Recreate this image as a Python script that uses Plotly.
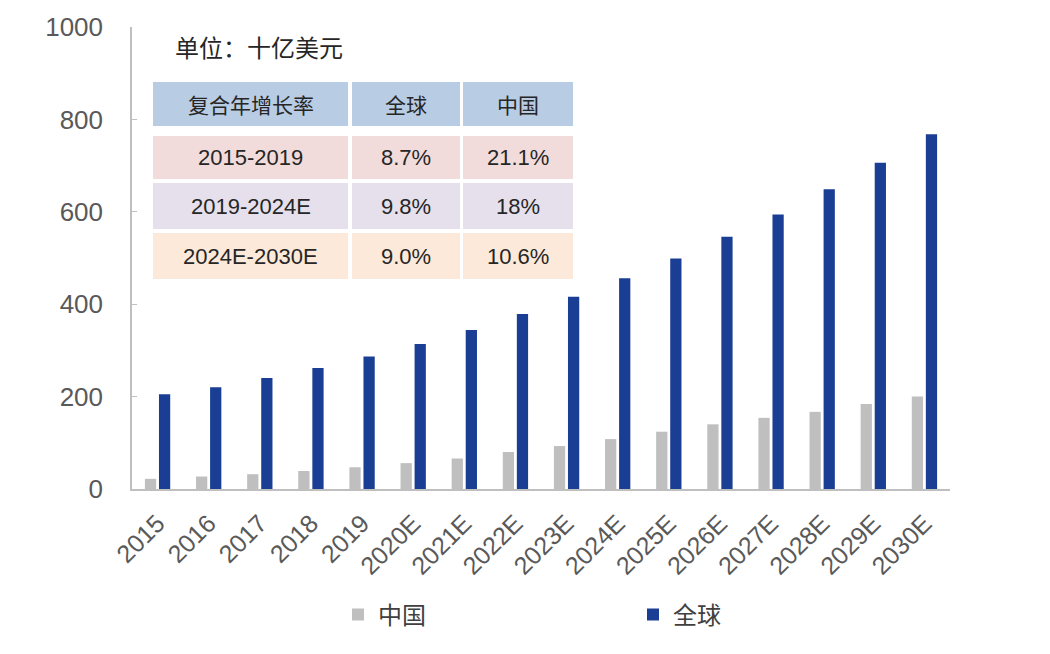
import plotly.graph_objects as go

categories = ["2015", "2016", "2017", "2018", "2019", "2020E", "2021E", "2022E",
              "2023E", "2024E", "2025E", "2026E", "2027E", "2028E", "2029E", "2030E"]
china = [22, 27, 32, 39, 47, 56, 66, 80, 93, 108, 124, 140, 154, 167, 184, 200]
world = [205, 220, 240, 262, 287, 314, 344, 379, 416, 456, 499, 546, 594, 649, 706, 768]

unit_label = "单位：十亿美元"
table_header = ["复合年增长率", "全球", "中国"]
table_periods = ["2015-2019", "2019-2024E", "2024E-2030E"]
table_world = ["8.7%", "9.8%", "9.0%"]
table_china = ["21.1%", "18%", "10.6%"]

OFF = 8  # browser body margin
W, H = 1050, 654
L, T = 132 - OFF, 27 - OFF
R = W - (950 - OFF)
B = H - (489 - OFF)
PW, PH = W - L - R, H - T - B

def px(x):
    return (x - OFF - L) / PW

def py(y):
    return (H - B - (y - OFF)) / PH

fig = go.Figure()
fig.add_trace(go.Bar(x=categories, y=china, name="中国", marker=dict(color="#BFBFBF", line=dict(width=0))))
fig.add_trace(go.Bar(x=categories, y=world, name="全球", marker=dict(color="#1A3E93", line=dict(width=0))))

cjk = "Noto Sans CJK SC"
latin = "Liberation Sans, Arial, sans-serif"

# Table
col_x = [(153, 348), (352, 460), (463, 573)]
row_y = [(82, 126), (136, 179), (183, 229), (233, 279)]
row_colors = ["#B8CCE4", "#F2DCDB", "#E5E0EC", "#FDE9D9"]
shapes = []
annotations = []
rows = [table_header] + [[p, w, c] for p, w, c in zip(table_periods, table_world, table_china)]
for ri, (y0, y1) in enumerate(row_y):
    for ci, (x0, x1) in enumerate(col_x):
        shapes.append(dict(type="rect", xref="paper", yref="paper",
                           x0=px(x0), x1=px(x1), y0=py(y1), y1=py(y0),
                           fillcolor=row_colors[ri], line=dict(width=0), layer="above"))
        annotations.append(dict(xref="paper", yref="paper", x=px((x0 + x1) / 2), y=py((y0 + y1) / 2),
                                text=rows[ri][ci], showarrow=False, xanchor="center", yanchor="middle",
                                font=dict(family=cjk if ri == 0 else latin, size=22 if ri else 21,
                                          color="#262626")))
annotations.append(dict(xref="paper", yref="paper", x=px(173), y=py(47), text=unit_label,
                        showarrow=False, xanchor="left", yanchor="middle",
                        font=dict(family=cjk, size=24, color="#262626")))

fig.update_layout(
    width=W, height=H,
    margin=dict(l=L, r=R, t=T, b=B, autoexpand=False),
    plot_bgcolor="white", paper_bgcolor="white",
    barmode="group", bargap=0.45, bargroupgap=0.2,
    font=dict(family=latin, color="#595959"),
    xaxis=dict(showline=True, linecolor="#BFBFBF", linewidth=1.5, ticks="", tickangle=-45,
               tickfont=dict(size=25, color="#595959"), showgrid=False, ticklabelstandoff=8),
    yaxis=dict(range=[0, 1000], dtick=200, showline=True, linecolor="#BFBFBF", linewidth=1.5,
               ticks="inside", ticklen=5, tickcolor="#BFBFBF", showgrid=False, zeroline=False,
               tickfont=dict(size=26, color="#595959"), ticklabelstandoff=22),
    legend=dict(orientation="h", x=px(338), y=py(615), xanchor="left", yanchor="middle",
                entrywidth=250, font=dict(family=cjk, size=24, color="#404040"),
                traceorder="normal"),
    shapes=shapes, annotations=annotations,
)

fig.write_html("out.html")
